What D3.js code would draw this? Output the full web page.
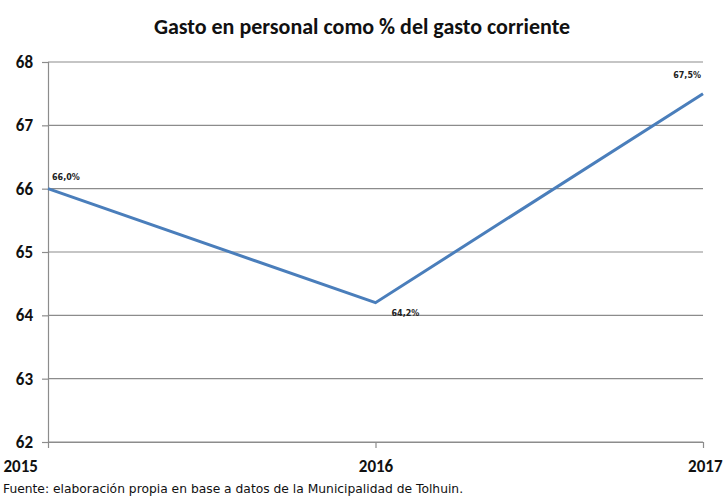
<!DOCTYPE html>
<html>
<head>
<meta charset="utf-8">
<script src="https://cdn.jsdelivr.net/npm/d3@7"></script>
<style>
  body { margin: 0; background: #fff; }
  svg text { font-family: Carlito, Lato, "Open Sans", sans-serif; }
</style>
</head>
<body>
<div id="chart"></div>
<script>
var years = ["2015", "2016", "2017"];
var values = [66.0, 64.2, 67.5];
var labels = ["66,0%", "64,2%", "67,5%"];
var yTicks = [62, 63, 64, 65, 66, 67, 68];

var W = 723, H = 498;
var margin = {top: 62, right: 20, bottom: 56, left: 48};
var width = W - margin.left - margin.right,
    height = H - margin.top - margin.bottom;

var svg = d3.select("#chart").append("svg")
    .attr("width", W)
    .attr("height", H);

svg.append("text")
  .attr("x", 362)
  .attr("y", 34)
  .attr("text-anchor", "middle")
  .style("font-size", "22px")
  .style("font-weight", "bold")
  .style("fill", "#111")
  .text("Gasto en personal como % del gasto corriente");

var g = svg.append("g")
  .attr("transform", "translate(" + margin.left + "," + margin.top + ")");

var x = d3.scalePoint().domain(years).range([0, width]);
var y = d3.scaleLinear().domain([62, 68]).range([height, 0]);

// gridlines
g.selectAll(".grid")
  .data(yTicks)
  .enter().append("line")
  .attr("x1", 0).attr("x2", width)
  .attr("y1", function(d) { return y(d); })
  .attr("y2", function(d) { return y(d); })
  .style("stroke", "#8c8c8c")
  .style("stroke-width", 1.2);

// y axis
var yAxis = g.append("g")
  .call(d3.axisLeft(y).tickValues(yTicks).tickFormat(d3.format("d")).tickSize(6).tickPadding(9));
yAxis.select(".domain").style("stroke", "#8c8c8c").style("stroke-width", 1.2);
yAxis.selectAll(".tick line").style("stroke", "#8c8c8c").style("stroke-width", 1.2);
yAxis.selectAll("text")
  .style("font-size", "17px").style("font-weight", "bold").style("fill", "#111");

// x axis
var xAxis = g.append("g")
  .attr("transform", "translate(0," + height + ")")
  .call(d3.axisBottom(x).tickSize(6).tickPadding(12).tickSizeOuter(0));
xAxis.select(".domain").style("stroke", "#8c8c8c").style("stroke-width", 1.2);
xAxis.selectAll(".tick line").style("stroke", "#8c8c8c").style("stroke-width", 1.2);
xAxis.selectAll("text")
  .style("font-size", "17px").style("font-weight", "bold").style("fill", "#111")
  .attr("text-anchor", function(d, i) { return i === 0 ? "start" : i === years.length - 1 ? "end" : "middle"; })
  .attr("dx", function(d, i) { return i === 0 ? -45 : i === years.length - 1 ? 19 : 0; });

// line
var line = d3.line()
  .x(function(d, i) { return x(years[i]); })
  .y(function(d) { return y(d); });

g.append("path")
  .datum(values)
  .attr("d", line)
  .style("fill", "none")
  .style("stroke", "#4a7ebb")
  .style("stroke-width", 3);

// data labels
var offs = [[4, -9, "start"], [16, 13, "start"], [-2, -16, "end"]];
g.selectAll(".lbl")
  .data(values)
  .enter().append("text")
  .attr("x", function(d, i) { return x(years[i]) + offs[i][0]; })
  .attr("y", function(d, i) { return y(d) + offs[i][1]; })
  .attr("text-anchor", function(d, i) { return offs[i][2]; })
  .style("font-family", "'DejaVu Sans', sans-serif")
  .style("font-size", "8px")
  .style("font-weight", "bold")
  .style("fill", "#222")
  .text(function(d, i) { return labels[i]; });

svg.append("text")
  .attr("x", 3)
  .attr("y", 493)
  .style("font-family", "'DejaVu Sans', sans-serif")
  .style("font-size", "12.3px")
  .style("fill", "#111")
  .text("Fuente: elaboración propia en base a datos de la Municipalidad de Tolhuin.");
</script>
</body>
</html>
